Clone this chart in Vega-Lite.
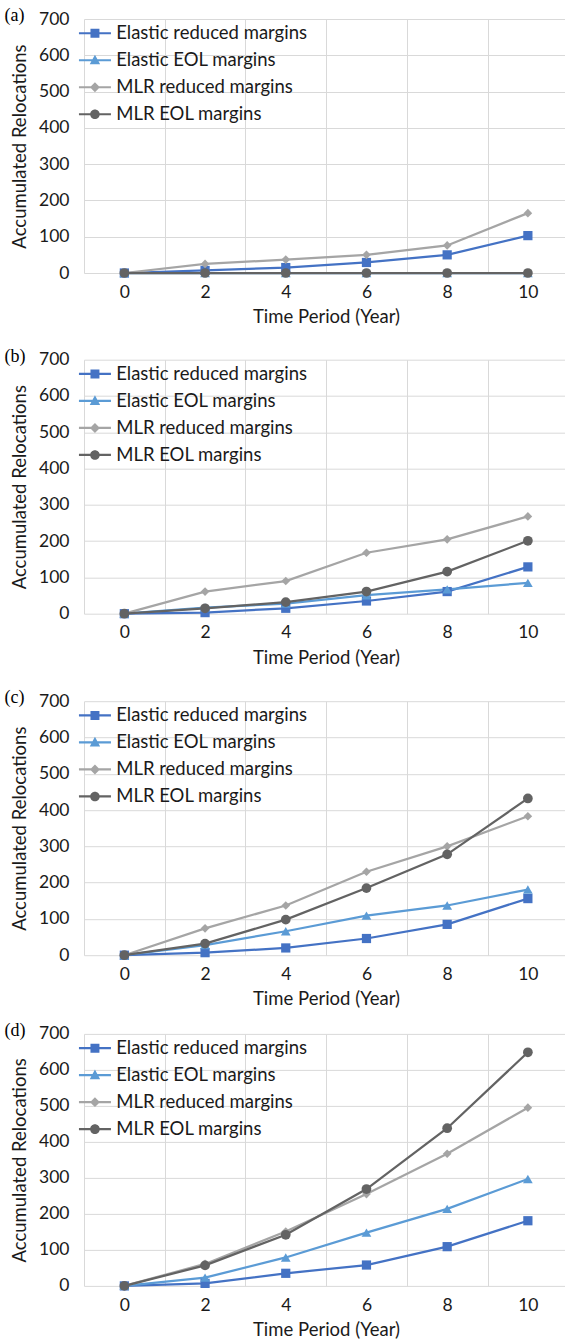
{
  "$schema": "https://vega.github.io/schema/vega-lite/v6.json",
  "padding": {"left": 4, "top": 7, "right": 0, "bottom": 0},
  "background": "white",
  "config": {
    "view": {"stroke": null},
    "font": "Lato",
    "axis": {"labelFont": "Lato", "labelFontSize": 17.5, "labelColor": "#1a1a1a", "titleFont": "Lato", "titleFontSize": 18.5, "titleFontWeight": "normal", "titleColor": "#1a1a1a", "gridColor": "#D9D9D9", "gridWidth": 1, "domain": false, "ticks": false, "tickSize": 0, "labelFlush": false, "labelOverlap": false}
  },
  "datasets": {
    "a": [
      {"series": "Elastic reduced margins", "year": 0, "relocations": 0},
      {"series": "Elastic reduced margins", "year": 2, "relocations": 7},
      {"series": "Elastic reduced margins", "year": 4, "relocations": 15},
      {"series": "Elastic reduced margins", "year": 6, "relocations": 29},
      {"series": "Elastic reduced margins", "year": 8, "relocations": 50},
      {"series": "Elastic reduced margins", "year": 10, "relocations": 103},
      {"series": "Elastic EOL margins", "year": 0, "relocations": 0},
      {"series": "Elastic EOL margins", "year": 2, "relocations": 0},
      {"series": "Elastic EOL margins", "year": 4, "relocations": 0},
      {"series": "Elastic EOL margins", "year": 6, "relocations": 0},
      {"series": "Elastic EOL margins", "year": 8, "relocations": 0},
      {"series": "Elastic EOL margins", "year": 10, "relocations": 0},
      {"series": "MLR reduced margins", "year": 0, "relocations": 0},
      {"series": "MLR reduced margins", "year": 2, "relocations": 25},
      {"series": "MLR reduced margins", "year": 4, "relocations": 37},
      {"series": "MLR reduced margins", "year": 6, "relocations": 50},
      {"series": "MLR reduced margins", "year": 8, "relocations": 76},
      {"series": "MLR reduced margins", "year": 10, "relocations": 165},
      {"series": "MLR EOL margins", "year": 0, "relocations": 0},
      {"series": "MLR EOL margins", "year": 2, "relocations": 0},
      {"series": "MLR EOL margins", "year": 4, "relocations": 0},
      {"series": "MLR EOL margins", "year": 6, "relocations": 0},
      {"series": "MLR EOL margins", "year": 8, "relocations": 0},
      {"series": "MLR EOL margins", "year": 10, "relocations": 0}
    ],
    "b": [
      {"series": "Elastic reduced margins", "year": 0, "relocations": 0},
      {"series": "Elastic reduced margins", "year": 2, "relocations": 3},
      {"series": "Elastic reduced margins", "year": 4, "relocations": 15},
      {"series": "Elastic reduced margins", "year": 6, "relocations": 35},
      {"series": "Elastic reduced margins", "year": 8, "relocations": 61},
      {"series": "Elastic reduced margins", "year": 10, "relocations": 129},
      {"series": "Elastic EOL margins", "year": 0, "relocations": 0},
      {"series": "Elastic EOL margins", "year": 2, "relocations": 17},
      {"series": "Elastic EOL margins", "year": 4, "relocations": 28},
      {"series": "Elastic EOL margins", "year": 6, "relocations": 51},
      {"series": "Elastic EOL margins", "year": 8, "relocations": 67},
      {"series": "Elastic EOL margins", "year": 10, "relocations": 85},
      {"series": "MLR reduced margins", "year": 0, "relocations": 0},
      {"series": "MLR reduced margins", "year": 2, "relocations": 61},
      {"series": "MLR reduced margins", "year": 4, "relocations": 90},
      {"series": "MLR reduced margins", "year": 6, "relocations": 168},
      {"series": "MLR reduced margins", "year": 8, "relocations": 205},
      {"series": "MLR reduced margins", "year": 10, "relocations": 268},
      {"series": "MLR EOL margins", "year": 0, "relocations": 0},
      {"series": "MLR EOL margins", "year": 2, "relocations": 15},
      {"series": "MLR EOL margins", "year": 4, "relocations": 32},
      {"series": "MLR EOL margins", "year": 6, "relocations": 61},
      {"series": "MLR EOL margins", "year": 8, "relocations": 116},
      {"series": "MLR EOL margins", "year": 10, "relocations": 201}
    ],
    "c": [
      {"series": "Elastic reduced margins", "year": 0, "relocations": 0},
      {"series": "Elastic reduced margins", "year": 2, "relocations": 7},
      {"series": "Elastic reduced margins", "year": 4, "relocations": 20},
      {"series": "Elastic reduced margins", "year": 6, "relocations": 46},
      {"series": "Elastic reduced margins", "year": 8, "relocations": 85},
      {"series": "Elastic reduced margins", "year": 10, "relocations": 156},
      {"series": "Elastic EOL margins", "year": 0, "relocations": 0},
      {"series": "Elastic EOL margins", "year": 2, "relocations": 28},
      {"series": "Elastic EOL margins", "year": 4, "relocations": 66},
      {"series": "Elastic EOL margins", "year": 6, "relocations": 109},
      {"series": "Elastic EOL margins", "year": 8, "relocations": 137},
      {"series": "Elastic EOL margins", "year": 10, "relocations": 181},
      {"series": "MLR reduced margins", "year": 0, "relocations": 0},
      {"series": "MLR reduced margins", "year": 2, "relocations": 74},
      {"series": "MLR reduced margins", "year": 4, "relocations": 137},
      {"series": "MLR reduced margins", "year": 6, "relocations": 230},
      {"series": "MLR reduced margins", "year": 8, "relocations": 300},
      {"series": "MLR reduced margins", "year": 10, "relocations": 383},
      {"series": "MLR EOL margins", "year": 0, "relocations": 0},
      {"series": "MLR EOL margins", "year": 2, "relocations": 32},
      {"series": "MLR EOL margins", "year": 4, "relocations": 98},
      {"series": "MLR EOL margins", "year": 6, "relocations": 185},
      {"series": "MLR EOL margins", "year": 8, "relocations": 278},
      {"series": "MLR EOL margins", "year": 10, "relocations": 432}
    ],
    "d": [
      {"series": "Elastic reduced margins", "year": 0, "relocations": 0},
      {"series": "Elastic reduced margins", "year": 2, "relocations": 7},
      {"series": "Elastic reduced margins", "year": 4, "relocations": 35},
      {"series": "Elastic reduced margins", "year": 6, "relocations": 58},
      {"series": "Elastic reduced margins", "year": 8, "relocations": 109},
      {"series": "Elastic reduced margins", "year": 10, "relocations": 181},
      {"series": "Elastic EOL margins", "year": 0, "relocations": 0},
      {"series": "Elastic EOL margins", "year": 2, "relocations": 23},
      {"series": "Elastic EOL margins", "year": 4, "relocations": 79},
      {"series": "Elastic EOL margins", "year": 6, "relocations": 148},
      {"series": "Elastic EOL margins", "year": 8, "relocations": 214},
      {"series": "Elastic EOL margins", "year": 10, "relocations": 297},
      {"series": "MLR reduced margins", "year": 0, "relocations": 0},
      {"series": "MLR reduced margins", "year": 2, "relocations": 61},
      {"series": "MLR reduced margins", "year": 4, "relocations": 151},
      {"series": "MLR reduced margins", "year": 6, "relocations": 255},
      {"series": "MLR reduced margins", "year": 8, "relocations": 367},
      {"series": "MLR reduced margins", "year": 10, "relocations": 495},
      {"series": "MLR EOL margins", "year": 0, "relocations": 0},
      {"series": "MLR EOL margins", "year": 2, "relocations": 57},
      {"series": "MLR EOL margins", "year": 4, "relocations": 142},
      {"series": "MLR EOL margins", "year": 6, "relocations": 269},
      {"series": "MLR EOL margins", "year": 8, "relocations": 438},
      {"series": "MLR EOL margins", "year": 10, "relocations": 649}
    ]
  },
  "spacing": 22.2,
  "resolve": {"scale": {"color": "independent", "shape": "independent"}},
  "vconcat": [
    {
      "spacing": 21.7,
      "resolve": {"scale": {"color": "independent", "shape": "independent"}},
      "vconcat": [
        {
          "data": {"name": "a"},
          "width": 481, "height": 254,
          "title": {"text": "(a)", "anchor": "start", "frame": "group", "font": "Liberation Serif", "fontSize": 18, "fontWeight": "normal", "color": "#000000", "dx": -79.5, "dy": 15, "offset": 0},
          "encoding": {
            "x": {"field": "year", "type": "quantitative", "scale": {"domain": [-1, 10.92], "nice": false, "zero": false}, "axis": null},
            "y": {"field": "relocations", "type": "quantitative", "scale": {"domain": [0, 700], "nice": false}, "axis": {"values": [0, 100, 200, 300, 400, 500, 600, 700], "grid": true, "labelPadding": 15, "title": "Accumulated Relocations", "titleX": -64.3, "titleY": 127, "titleBaseline": "middle"}},
            "color": {"field": "series", "type": "nominal", "sort": null,
              "scale": {"domain": ["Elastic reduced margins", "Elastic EOL margins", "MLR reduced margins", "MLR EOL margins"], "range": ["#4472C4", "#5B9BD5", "#A5A5A5", "#636363"]},
              "legend": {"title": null, "orient": "none", "legendX": 1.7, "legendY": 5, "padding": 0, "symbolSize": 256, "symbolStrokeWidth": 0, "symbolOpacity": 1, "labelFont": "Lato", "labelFontSize": 18.5, "labelColor": "#1a1a1a", "labelOffset": 12, "rowPadding": 8, "labelLimit": 400}}
          },
          "layer": [
            {
              "mark": {"type": "point", "filled": true, "opacity": 0},
              "encoding": {
                "x": {"field": "year", "type": "quantitative", "axis": {"orient": "top", "values": [-1, 1, 3, 5, 7, 9], "grid": true, "labels": false, "title": null}},
                "shape": {"field": "series", "type": "nominal", "sort": null,
                  "scale": {"domain": ["Elastic reduced margins", "Elastic EOL margins", "MLR reduced margins", "MLR EOL margins"], "range": ["M-2,-0.14H2V0.14H-2ZM-0.56,-0.56H0.56V0.56H-0.56Z", "M-2,-0.14H2V0.14H-2ZM0,-0.7L0.65,0.5H-0.65Z", "M-2,-0.14H2V0.14H-2ZM0,-0.62L0.62,0L0,0.62L-0.62,0Z", "M-2,-0.14H2V0.14H-2ZM0.6,0A0.6,0.6,0,1,1,-0.6,0A0.6,0.6,0,1,1,0.6,0Z"]},
                  "legend": {"title": null, "orient": "none", "legendX": 1.7, "legendY": 5, "padding": 0, "symbolSize": 256, "symbolStrokeWidth": 0, "symbolOpacity": 1, "labelFont": "Lato", "labelFontSize": 18.5, "labelColor": "#1a1a1a", "labelOffset": 12, "rowPadding": 8, "labelLimit": 400}}
              }
            },
            {
              "mark": {"type": "line", "strokeWidth": 2.25},
              "encoding": {
                "x": {"field": "year", "type": "quantitative", "axis": {"values": [0, 2, 4, 6, 8, 10], "grid": false, "labelPadding": 19.2, "labelBaseline": "middle", "title": "Time Period (Year)", "titleX": 242, "titleY": 43.4, "titleBaseline": "middle"}}
              }
            },
            {"transform": [{"filter": "datum.series === 'Elastic reduced margins'"}], "mark": {"type": "point", "filled": true, "opacity": 1, "size": 85, "shape": "square"}},
            {"transform": [{"filter": "datum.series === 'Elastic EOL margins'"}], "mark": {"type": "point", "filled": true, "opacity": 1, "size": 95, "shape": "triangle-up"}},
            {"transform": [{"filter": "datum.series === 'MLR reduced margins'"}], "mark": {"type": "point", "filled": true, "opacity": 1, "size": 75, "shape": "diamond"}},
            {"transform": [{"filter": "datum.series === 'MLR EOL margins'"}], "mark": {"type": "point", "filled": true, "opacity": 1, "size": 95, "shape": "circle"}}
          ],
          "resolve": {"axis": {"x": "independent"}}
        },
        {
          "data": {"name": "b"},
          "width": 481, "height": 254,
          "title": {"text": "(b)", "anchor": "start", "frame": "group", "font": "Liberation Serif", "fontSize": 18, "fontWeight": "normal", "color": "#000000", "dx": -79.5, "dy": 15, "offset": 0},
          "encoding": {
            "x": {"field": "year", "type": "quantitative", "scale": {"domain": [-1, 10.92], "nice": false, "zero": false}, "axis": null},
            "y": {"field": "relocations", "type": "quantitative", "scale": {"domain": [0, 700], "nice": false}, "axis": {"values": [0, 100, 200, 300, 400, 500, 600, 700], "grid": true, "labelPadding": 15, "title": "Accumulated Relocations", "titleX": -64.3, "titleY": 127, "titleBaseline": "middle"}},
            "color": {"field": "series", "type": "nominal", "sort": null,
              "scale": {"domain": ["Elastic reduced margins", "Elastic EOL margins", "MLR reduced margins", "MLR EOL margins"], "range": ["#4472C4", "#5B9BD5", "#A5A5A5", "#636363"]},
              "legend": {"title": null, "orient": "none", "legendX": 1.7, "legendY": 5, "padding": 0, "symbolSize": 256, "symbolStrokeWidth": 0, "symbolOpacity": 1, "labelFont": "Lato", "labelFontSize": 18.5, "labelColor": "#1a1a1a", "labelOffset": 12, "rowPadding": 8, "labelLimit": 400}}
          },
          "layer": [
            {
              "mark": {"type": "point", "filled": true, "opacity": 0},
              "encoding": {
                "x": {"field": "year", "type": "quantitative", "axis": {"orient": "top", "values": [-1, 1, 3, 5, 7, 9], "grid": true, "labels": false, "title": null}},
                "shape": {"field": "series", "type": "nominal", "sort": null,
                  "scale": {"domain": ["Elastic reduced margins", "Elastic EOL margins", "MLR reduced margins", "MLR EOL margins"], "range": ["M-2,-0.14H2V0.14H-2ZM-0.56,-0.56H0.56V0.56H-0.56Z", "M-2,-0.14H2V0.14H-2ZM0,-0.7L0.65,0.5H-0.65Z", "M-2,-0.14H2V0.14H-2ZM0,-0.62L0.62,0L0,0.62L-0.62,0Z", "M-2,-0.14H2V0.14H-2ZM0.6,0A0.6,0.6,0,1,1,-0.6,0A0.6,0.6,0,1,1,0.6,0Z"]},
                  "legend": {"title": null, "orient": "none", "legendX": 1.7, "legendY": 5, "padding": 0, "symbolSize": 256, "symbolStrokeWidth": 0, "symbolOpacity": 1, "labelFont": "Lato", "labelFontSize": 18.5, "labelColor": "#1a1a1a", "labelOffset": 12, "rowPadding": 8, "labelLimit": 400}}
              }
            },
            {
              "mark": {"type": "line", "strokeWidth": 2.25},
              "encoding": {
                "x": {"field": "year", "type": "quantitative", "axis": {"values": [0, 2, 4, 6, 8, 10], "grid": false, "labelPadding": 19.2, "labelBaseline": "middle", "title": "Time Period (Year)", "titleX": 242, "titleY": 43.4, "titleBaseline": "middle"}}
              }
            },
            {"transform": [{"filter": "datum.series === 'Elastic reduced margins'"}], "mark": {"type": "point", "filled": true, "opacity": 1, "size": 85, "shape": "square"}},
            {"transform": [{"filter": "datum.series === 'Elastic EOL margins'"}], "mark": {"type": "point", "filled": true, "opacity": 1, "size": 95, "shape": "triangle-up"}},
            {"transform": [{"filter": "datum.series === 'MLR reduced margins'"}], "mark": {"type": "point", "filled": true, "opacity": 1, "size": 75, "shape": "diamond"}},
            {"transform": [{"filter": "datum.series === 'MLR EOL margins'"}], "mark": {"type": "point", "filled": true, "opacity": 1, "size": 95, "shape": "circle"}}
          ],
          "resolve": {"axis": {"x": "independent"}}
        }
      ]
    },
    {
      "spacing": 13.7,
      "resolve": {"scale": {"color": "independent", "shape": "independent"}},
      "vconcat": [
        {
          "data": {"name": "c"},
          "width": 481, "height": 254,
          "title": {"text": "(c)", "anchor": "start", "frame": "group", "font": "Liberation Serif", "fontSize": 18, "fontWeight": "normal", "color": "#000000", "dx": -79.5, "dy": 15, "offset": 0},
          "encoding": {
            "x": {"field": "year", "type": "quantitative", "scale": {"domain": [-1, 10.92], "nice": false, "zero": false}, "axis": null},
            "y": {"field": "relocations", "type": "quantitative", "scale": {"domain": [0, 700], "nice": false}, "axis": {"values": [0, 100, 200, 300, 400, 500, 600, 700], "grid": true, "labelPadding": 15, "title": "Accumulated Relocations", "titleX": -64.3, "titleY": 127, "titleBaseline": "middle"}},
            "color": {"field": "series", "type": "nominal", "sort": null,
              "scale": {"domain": ["Elastic reduced margins", "Elastic EOL margins", "MLR reduced margins", "MLR EOL margins"], "range": ["#4472C4", "#5B9BD5", "#A5A5A5", "#636363"]},
              "legend": {"title": null, "orient": "none", "legendX": 1.7, "legendY": 5, "padding": 0, "symbolSize": 256, "symbolStrokeWidth": 0, "symbolOpacity": 1, "labelFont": "Lato", "labelFontSize": 18.5, "labelColor": "#1a1a1a", "labelOffset": 12, "rowPadding": 8, "labelLimit": 400}}
          },
          "layer": [
            {
              "mark": {"type": "point", "filled": true, "opacity": 0},
              "encoding": {
                "x": {"field": "year", "type": "quantitative", "axis": {"orient": "top", "values": [-1, 1, 3, 5, 7, 9], "grid": true, "labels": false, "title": null}},
                "shape": {"field": "series", "type": "nominal", "sort": null,
                  "scale": {"domain": ["Elastic reduced margins", "Elastic EOL margins", "MLR reduced margins", "MLR EOL margins"], "range": ["M-2,-0.14H2V0.14H-2ZM-0.56,-0.56H0.56V0.56H-0.56Z", "M-2,-0.14H2V0.14H-2ZM0,-0.7L0.65,0.5H-0.65Z", "M-2,-0.14H2V0.14H-2ZM0,-0.62L0.62,0L0,0.62L-0.62,0Z", "M-2,-0.14H2V0.14H-2ZM0.6,0A0.6,0.6,0,1,1,-0.6,0A0.6,0.6,0,1,1,0.6,0Z"]},
                  "legend": {"title": null, "orient": "none", "legendX": 1.7, "legendY": 5, "padding": 0, "symbolSize": 256, "symbolStrokeWidth": 0, "symbolOpacity": 1, "labelFont": "Lato", "labelFontSize": 18.5, "labelColor": "#1a1a1a", "labelOffset": 12, "rowPadding": 8, "labelLimit": 400}}
              }
            },
            {
              "mark": {"type": "line", "strokeWidth": 2.25},
              "encoding": {
                "x": {"field": "year", "type": "quantitative", "axis": {"values": [0, 2, 4, 6, 8, 10], "grid": false, "labelPadding": 19.2, "labelBaseline": "middle", "title": "Time Period (Year)", "titleX": 242, "titleY": 43.4, "titleBaseline": "middle"}}
              }
            },
            {"transform": [{"filter": "datum.series === 'Elastic reduced margins'"}], "mark": {"type": "point", "filled": true, "opacity": 1, "size": 85, "shape": "square"}},
            {"transform": [{"filter": "datum.series === 'Elastic EOL margins'"}], "mark": {"type": "point", "filled": true, "opacity": 1, "size": 95, "shape": "triangle-up"}},
            {"transform": [{"filter": "datum.series === 'MLR reduced margins'"}], "mark": {"type": "point", "filled": true, "opacity": 1, "size": 75, "shape": "diamond"}},
            {"transform": [{"filter": "datum.series === 'MLR EOL margins'"}], "mark": {"type": "point", "filled": true, "opacity": 1, "size": 95, "shape": "circle"}}
          ],
          "resolve": {"axis": {"x": "independent"}}
        },
        {
          "data": {"name": "d"},
          "width": 481, "height": 252,
          "title": {"text": "(d)", "anchor": "start", "frame": "group", "font": "Liberation Serif", "fontSize": 18, "fontWeight": "normal", "color": "#000000", "dx": -79.5, "dy": 15, "offset": 0},
          "encoding": {
            "x": {"field": "year", "type": "quantitative", "scale": {"domain": [-1, 10.92], "nice": false, "zero": false}, "axis": null},
            "y": {"field": "relocations", "type": "quantitative", "scale": {"domain": [0, 700], "nice": false}, "axis": {"values": [0, 100, 200, 300, 400, 500, 600, 700], "grid": true, "labelPadding": 15, "title": "Accumulated Relocations", "titleX": -64.3, "titleY": 126, "titleBaseline": "middle"}},
            "color": {"field": "series", "type": "nominal", "sort": null,
              "scale": {"domain": ["Elastic reduced margins", "Elastic EOL margins", "MLR reduced margins", "MLR EOL margins"], "range": ["#4472C4", "#5B9BD5", "#A5A5A5", "#636363"]},
              "legend": {"title": null, "orient": "none", "legendX": 1.7, "legendY": 5, "padding": 0, "symbolSize": 256, "symbolStrokeWidth": 0, "symbolOpacity": 1, "labelFont": "Lato", "labelFontSize": 18.5, "labelColor": "#1a1a1a", "labelOffset": 12, "rowPadding": 8, "labelLimit": 400}}
          },
          "layer": [
            {
              "mark": {"type": "point", "filled": true, "opacity": 0},
              "encoding": {
                "x": {"field": "year", "type": "quantitative", "axis": {"orient": "top", "values": [-1, 1, 3, 5, 7, 9], "grid": true, "labels": false, "title": null}},
                "shape": {"field": "series", "type": "nominal", "sort": null,
                  "scale": {"domain": ["Elastic reduced margins", "Elastic EOL margins", "MLR reduced margins", "MLR EOL margins"], "range": ["M-2,-0.14H2V0.14H-2ZM-0.56,-0.56H0.56V0.56H-0.56Z", "M-2,-0.14H2V0.14H-2ZM0,-0.7L0.65,0.5H-0.65Z", "M-2,-0.14H2V0.14H-2ZM0,-0.62L0.62,0L0,0.62L-0.62,0Z", "M-2,-0.14H2V0.14H-2ZM0.6,0A0.6,0.6,0,1,1,-0.6,0A0.6,0.6,0,1,1,0.6,0Z"]},
                  "legend": {"title": null, "orient": "none", "legendX": 1.7, "legendY": 5, "padding": 0, "symbolSize": 256, "symbolStrokeWidth": 0, "symbolOpacity": 1, "labelFont": "Lato", "labelFontSize": 18.5, "labelColor": "#1a1a1a", "labelOffset": 12, "rowPadding": 8, "labelLimit": 400}}
              }
            },
            {
              "mark": {"type": "line", "strokeWidth": 2.25},
              "encoding": {
                "x": {"field": "year", "type": "quantitative", "axis": {"values": [0, 2, 4, 6, 8, 10], "grid": false, "labelPadding": 19.2, "labelBaseline": "middle", "title": "Time Period (Year)", "titleX": 242, "titleY": 43.4, "titleBaseline": "middle"}}
              }
            },
            {"transform": [{"filter": "datum.series === 'Elastic reduced margins'"}], "mark": {"type": "point", "filled": true, "opacity": 1, "size": 85, "shape": "square"}},
            {"transform": [{"filter": "datum.series === 'Elastic EOL margins'"}], "mark": {"type": "point", "filled": true, "opacity": 1, "size": 95, "shape": "triangle-up"}},
            {"transform": [{"filter": "datum.series === 'MLR reduced margins'"}], "mark": {"type": "point", "filled": true, "opacity": 1, "size": 75, "shape": "diamond"}},
            {"transform": [{"filter": "datum.series === 'MLR EOL margins'"}], "mark": {"type": "point", "filled": true, "opacity": 1, "size": 95, "shape": "circle"}}
          ],
          "resolve": {"axis": {"x": "independent"}}
        }
      ]
    }
  ]
}
